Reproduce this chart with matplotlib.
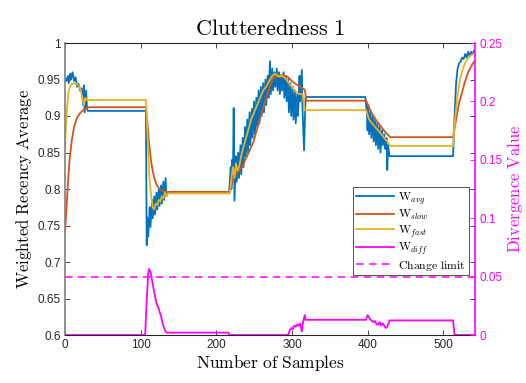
import matplotlib
matplotlib.use("Agg")
import matplotlib.pyplot as plt

plt.rcParams["mathtext.fontset"] = "cm"
plt.rcParams["font.family"] = ["Liberation Sans", "DejaVu Sans"]

# --- data (sample index, value) ---
avg_x = [0, 2, 4, 5, 7, 8, 10, 12, 14, 16, 18, 20, 22, 24, 25, 26, 28, 29, 30,
         107, 108, 109, 110, 112, 113, 115, 116, 118, 119, 121, 122, 124, 125,
         127, 128, 130, 131, 133, 134, 136,
         217, 219, 220, 221, 222, 223, 224, 226, 227, 229, 230, 232, 233, 235,
         236, 238, 239, 241, 242, 244, 245, 247, 248, 250, 251, 253, 254, 256,
         257, 259, 260, 262, 263, 265, 266, 268, 269, 271, 272, 274, 275, 277,
         278, 280, 281, 283, 284, 286, 287, 289, 290, 292, 293, 295, 296, 298,
         299, 301, 302, 304, 305, 307, 308, 310, 311, 313, 314, 316, 318,
         397, 399, 400, 401, 402, 404, 405, 407, 408, 410, 411, 413, 414, 416,
         417, 419, 420, 422, 423, 425, 426, 427, 429, 430,
         513, 515, 517, 519, 521, 523, 525, 527, 529, 531, 533, 535, 537, 539, 541]
avg_y = [0.952, 0.948, 0.955, 0.945, 0.958, 0.950, 0.960, 0.948, 0.953, 0.940,
         0.944, 0.935, 0.938, 0.915, 0.942, 0.905, 0.935, 0.912, 0.907,
         0.907, 0.723, 0.760, 0.735, 0.775, 0.748, 0.785, 0.760, 0.790, 0.765,
         0.795, 0.772, 0.800, 0.777, 0.805, 0.780, 0.810, 0.785, 0.815, 0.790, 0.796,
         0.796, 0.830, 0.800, 0.840, 0.815, 0.911, 0.784, 0.845, 0.810, 0.850,
         0.815, 0.860, 0.820, 0.870, 0.830, 0.885, 0.845, 0.895, 0.850, 0.905,
         0.860, 0.910, 0.870, 0.920, 0.875, 0.925, 0.885, 0.935, 0.890, 0.940,
         0.900, 0.945, 0.905, 0.950, 0.915, 0.955, 0.925, 0.975, 0.930, 0.965,
         0.935, 0.960, 0.940, 0.965, 0.935, 0.960, 0.930, 0.955, 0.935, 0.960,
         0.925, 0.955, 0.920, 0.950, 0.905, 0.945, 0.900, 0.940, 0.895, 0.935,
         0.890, 0.930, 0.900, 0.955, 0.920, 0.963, 0.910, 0.853, 0.926,
         0.926, 0.905, 0.880, 0.915, 0.875, 0.905, 0.870, 0.900, 0.865, 0.895,
         0.860, 0.890, 0.855, 0.885, 0.850, 0.880, 0.860, 0.875, 0.855, 0.870,
         0.826, 0.860, 0.845, 0.845,
         0.845, 0.900, 0.945, 0.965, 0.972, 0.975, 0.980, 0.978, 0.985, 0.980,
         0.988, 0.982, 0.988, 0.985, 0.990]

slow_x = [0, 2, 4, 6, 9, 12, 16, 20, 25, 30, 107, 109, 111, 113, 115, 118, 121,
          125, 130, 135, 218, 222, 228, 234, 242, 249, 256, 262, 268, 275, 280,
          287, 294, 302, 311, 317, 319, 398, 405, 412, 418, 424, 430, 513, 517,
          521, 525, 529, 533, 537, 541]
slow_y = [0.740, 0.775, 0.810, 0.840, 0.867, 0.885, 0.898, 0.904, 0.909, 0.912,
          0.912, 0.890, 0.865, 0.845, 0.830, 0.815, 0.806, 0.800, 0.797, 0.796,
          0.796, 0.815, 0.823, 0.830, 0.848, 0.864, 0.890, 0.911, 0.932, 0.952,
          0.955, 0.956, 0.954, 0.946, 0.940, 0.936, 0.921, 0.921, 0.905, 0.893,
          0.885, 0.877, 0.871, 0.871, 0.895, 0.918, 0.933, 0.948, 0.960, 0.968, 0.975]

fast_x = [0, 1, 3, 5, 8, 12, 16, 19, 21, 23, 25, 27, 28, 107, 108, 110, 112, 114,
          116, 118, 120, 122, 124, 126, 128, 130, 132, 134, 136, 218, 220, 222,
          224, 226, 228, 230, 234, 238, 242, 246, 250, 254, 258, 262, 266, 270,
          274, 278, 282, 286, 290, 294, 298, 302, 306, 310, 314, 317, 398, 402,
          406, 410, 414, 418, 422, 426, 430, 513, 516, 519, 522, 526, 530, 535, 541]
fast_y = [0.853, 0.880, 0.915, 0.935, 0.943, 0.945, 0.944, 0.940, 0.935, 0.925,
          0.915, 0.925, 0.922, 0.922, 0.900, 0.850, 0.810, 0.790, 0.775, 0.772,
          0.780, 0.778, 0.785, 0.783, 0.790, 0.787, 0.795, 0.790, 0.794, 0.794,
          0.815, 0.830, 0.815, 0.835, 0.825, 0.830, 0.850, 0.865, 0.880, 0.895,
          0.905, 0.915, 0.925, 0.935, 0.940, 0.948, 0.955, 0.958, 0.954, 0.955,
          0.953, 0.948, 0.942, 0.937, 0.932, 0.930, 0.930, 0.908, 0.908, 0.895,
          0.890, 0.885, 0.880, 0.875, 0.870, 0.865, 0.859, 0.859, 0.900, 0.930,
          0.950, 0.965, 0.975, 0.982, 0.986]

diff_x = [0, 106, 108, 110, 111, 113, 115, 117, 119, 121, 123, 125, 127, 129,
          131, 133, 134, 216, 217, 295, 297, 299, 301, 303, 305, 307, 309, 311,
          313, 315, 317, 318, 398, 400, 402, 404, 406, 408, 410, 412, 414, 416,
          418, 420, 422, 424, 426, 429, 513, 515, 541]
diff_y = [0, 0, 0.030, 0.053, 0.0565, 0.054, 0.047, 0.040, 0.033, 0.027, 0.024,
          0.020, 0.016, 0.010, 0.006, 0.003, 0.002, 0.002, 0, 0, 0.004, 0.006,
          0.005, 0.008, 0.007, 0.009, 0.008, 0.010, 0.003, 0.012, 0.017, 0.013,
          0.013, 0.017, 0.015, 0.013, 0.012, 0.011, 0.012, 0.009, 0.009, 0.011,
          0.008, 0.010, 0.008, 0.006, 0.007, 0.0125, 0.0125, 0, 0]

change_limit = 0.05

C_AVG, C_SLOW, C_FAST, C_DIFF = "#0072BD", "#D95319", "#EDB120", "#FF00FF"

fig = plt.figure(figsize=(5.26, 3.83), dpi=100)
ax = fig.add_axes([65 / 526, 1 - 335 / 383, 410 / 526, 292 / 383])
ax2 = ax.twinx()

l1, = ax.plot(avg_x, avg_y, color=C_AVG, lw=1.3, label=r"$\mathrm{W}_{avg}$")
l2, = ax.plot(slow_x, slow_y, color=C_SLOW, lw=1.3, label=r"$\mathrm{W}_{slow}$")
l3, = ax.plot(fast_x, fast_y, color=C_FAST, lw=1.3, label=r"$\mathrm{W}_{fast}$")
l4, = ax2.plot(diff_x, diff_y, color=C_DIFF, lw=1.3, label=r"$\mathrm{W}_{diff}$")
l5 = ax2.axhline(change_limit, color=C_DIFF, lw=1.1, ls=(0, (5, 3.5)),
                 label=r"$\mathrm{Change\ limit}$")

ax.set_xlim(0, 542)
ax.set_ylim(0.6, 1.0)
ax2.set_ylim(0, 0.25)
ax.set_xticks([0, 100, 200, 300, 400, 500])
ax.set_yticks([0.6, 0.65, 0.7, 0.75, 0.8, 0.85, 0.9, 0.95, 1.0])
ax.set_yticklabels(["0.6", "0.65", "0.7", "0.75", "0.8", "0.85", "0.9", "0.95", "1"])
ax2.set_yticks([0, 0.05, 0.1, 0.15, 0.2, 0.25])
ax2.set_yticklabels(["0", "0.05", "0.1", "0.15", "0.2", "0.25"])

ax.tick_params(direction="in", length=3.5, width=0.6, labelsize=8.5,
               top=True, right=True, colors="0.15", pad=3)
ax2.tick_params(axis="y", direction="in", length=3.5, width=0.6, labelsize=8.5,
                colors=C_DIFF, pad=3)

for s in ("top", "bottom"):
    ax.spines[s].set_color("0.15")
    ax.spines[s].set_linewidth(0.8)
ax.spines["left"].set_color("0.5")
ax.spines["left"].set_linewidth(1.2)
ax.spines["right"].set_visible(False)
for s in ("left", "top", "bottom"):
    ax2.spines[s].set_visible(False)
ax2.spines["right"].set_color(C_DIFF)
ax2.spines["right"].set_linewidth(1.2)

ax.set_title(r"$\mathrm{Clutteredness\ 1}$", fontsize=16, pad=6)
ax.set_xlabel(r"$\mathrm{Number\ of\ Samples}$", fontsize=12.5, labelpad=1)
ax.set_ylabel(r"$\mathrm{Weighted\ Recency\ Average}$", fontsize=12, labelpad=3)
ax2.set_ylabel(r"$\mathrm{Divergence\ Value}$", fontsize=12, color=C_DIFF, labelpad=2)

leg = ax2.legend(handles=[l1, l2, l3, l4, l5], loc="upper left",
                 bbox_to_anchor=(353 / 526, 1 - 187 / 383), bbox_transform=fig.transFigure,
                 fontsize=8.5, frameon=True, fancybox=False, handlelength=3.2,
                 handletextpad=0.4, borderpad=0.25, labelspacing=0.1, borderaxespad=0)
leg.get_frame().set_edgecolor("0.15")
leg.get_frame().set_linewidth(0.7)

fig.savefig("out.png", dpi=100)
